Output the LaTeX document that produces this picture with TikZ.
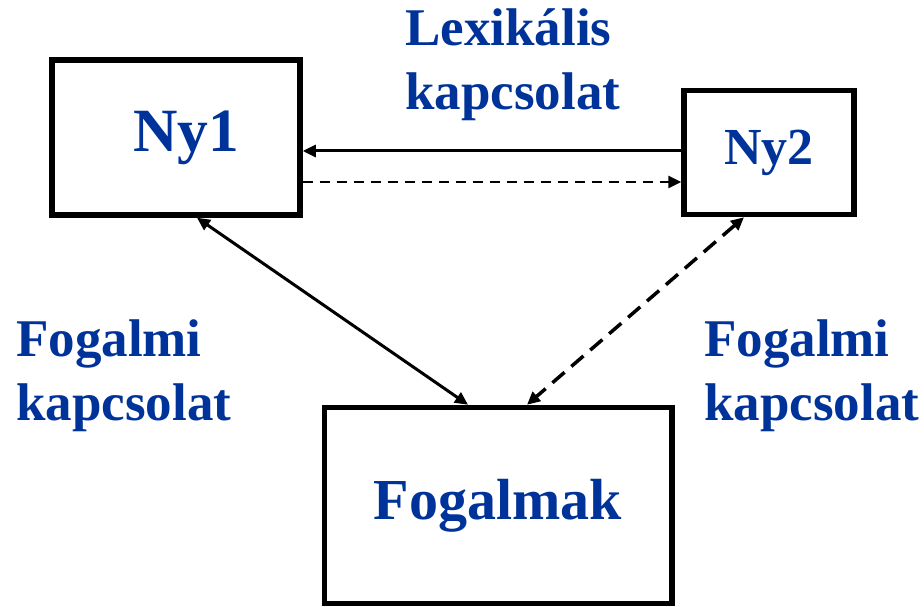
\documentclass[tikz,border=0pt]{standalone}
\usepackage{fontspec}
\setmainfont{Liberation Serif}
\usetikzlibrary{arrows.meta,calc}
\definecolor{txtblue}{HTML}{003399}
\begin{document}
\begin{tikzpicture}[x=1pt,y=1pt,
  box/.style={draw=black,line width=5.5pt,inner sep=0pt,text=txtblue},
  lbl/.style={text=txtblue,font=\fontsize{53}{64}\selectfont\bfseries,align=left,inner sep=0pt,anchor=base west},
  tip/.style={-{Triangle[length=13pt,width=12pt]}},
  dtip/.style={{Triangle[length=13pt,width=12pt]}-{Triangle[length=13pt,width=12pt]}},
  conn/.style={line width=3pt},
  dconn/.style={line width=2.5pt,dash pattern=on 10pt off 7pt},
  ddconn/.style={line width=3.5pt,dash pattern=on 16pt off 9pt}]
\useasboundingbox (0,0) rectangle (924,606);
\node[box,minimum width=248pt,minimum height=155pt,font=\fontsize{61.5}{70}\selectfont\bfseries] (ny1) at (176,468.5) {\hspace{20pt}Ny1};
\node[box,minimum width=170pt,minimum height=124pt,font=\fontsize{52}{60}\selectfont\bfseries] (ny2) at (769,453.5) {Ny2};
\node[box,minimum width=347.5pt,minimum height=196pt,font=\fontsize{58}{66}\selectfont\bfseries] (fog) at (498,100.5) {Fogalmak};
\node[lbl] (lex) at (405,496) {Lexikális\\kapcsolat};
\node[lbl] (fl) at (16,186) {Fogalmi\\kapcsolat};
\node[lbl] (fr) at (704,186) {Fogalmi\\kapcsolat};
\draw[conn,tip] ([yshift=1.5pt]ny2.west) -- ([yshift=-13.5pt]ny1.east);
\draw[dconn,tip] ([yshift=-44.5pt]ny1.east) -- ([yshift=-29.5pt]ny2.west);
\draw[conn,dtip] ([xshift=21pt]ny1.south) -- ([xshift=-30pt]fog.north);
\draw[ddconn,dtip] ([xshift=-25pt]ny2.south) -- ([xshift=29pt]fog.north);
\end{tikzpicture}
\end{document}
